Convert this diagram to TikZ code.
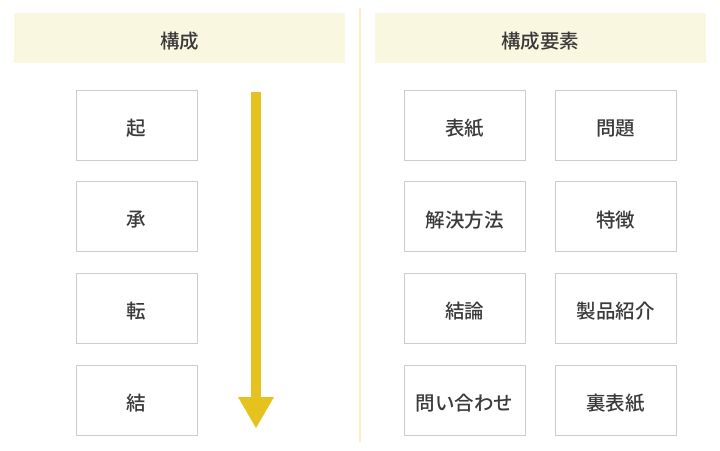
\documentclass[tikz,border=0pt]{standalone}
\usepackage{fontspec}
\setmainfont{Noto Sans CJK JP Medium}
\definecolor{hdr}{HTML}{FAF7E1}
\definecolor{divc}{HTML}{FAEFC8}
\definecolor{arr}{HTML}{E6C21E}
\definecolor{bord}{HTML}{CCCCCC}
\definecolor{txt}{HTML}{3A3A3A}
\begin{document}
\begin{tikzpicture}[x=1pt,y=-1pt,
  header/.style={fill=hdr,draw=none,minimum width=331pt,minimum height=50pt,inner sep=0pt},
  card/.style={draw=bord,line width=1pt,fill=white,minimum width=121pt,minimum height=70pt,inner sep=0pt},
  lbl/.style={text=txt,font=\fontsize{19.5}{21}\selectfont,inner sep=0pt}]
\useasboundingbox (0,0) rectangle (720,450);
\fill[white] (0,0) rectangle (720,450);
\draw[divc,line width=2pt] (360,8) -- (360,442);
\node[header] (h1) at (179.5,38) {};
\node[lbl] (t1) at ([yshift=-3pt]h1.center) {構成};
\node[header] (h2) at (540,38) {};
\node[lbl] (t2) at ([yshift=-3pt]h2.center) {構成要素};
% left column
\foreach \n/\y/\t in {k1/125/起,k2/216.5/承,k3/308/転,k4/400/結}{
  \node[card] (\n) at (136.5,\y) {};
  \node[lbl] (\n t) at ([yshift=-3.5pt]\n.center) {\t};
}
% arrow
\coordinate (at) at (256,428);
\fill[arr] (251,92) rectangle (261,398);
\fill[arr] (238,397) -- (274,397) -- (at) -- cycle;
% right column
\foreach \n/\x/\y/\t in {r1/464.5/125/表紙,r2/615.5/125/問題,r3/464.5/216.5/解決方法,r4/615.5/216.5/特徴,r5/464.5/308/結論,r6/615.5/308/製品紹介,r7/464.5/400/問い合わせ,r8/615.5/400/裏表紙}{
  \node[card] (\n) at (\x,\y) {};
  \node[lbl] (\n t) at ([yshift=-3.5pt]\n.center) {\t};
}
\end{tikzpicture}
\end{document}
